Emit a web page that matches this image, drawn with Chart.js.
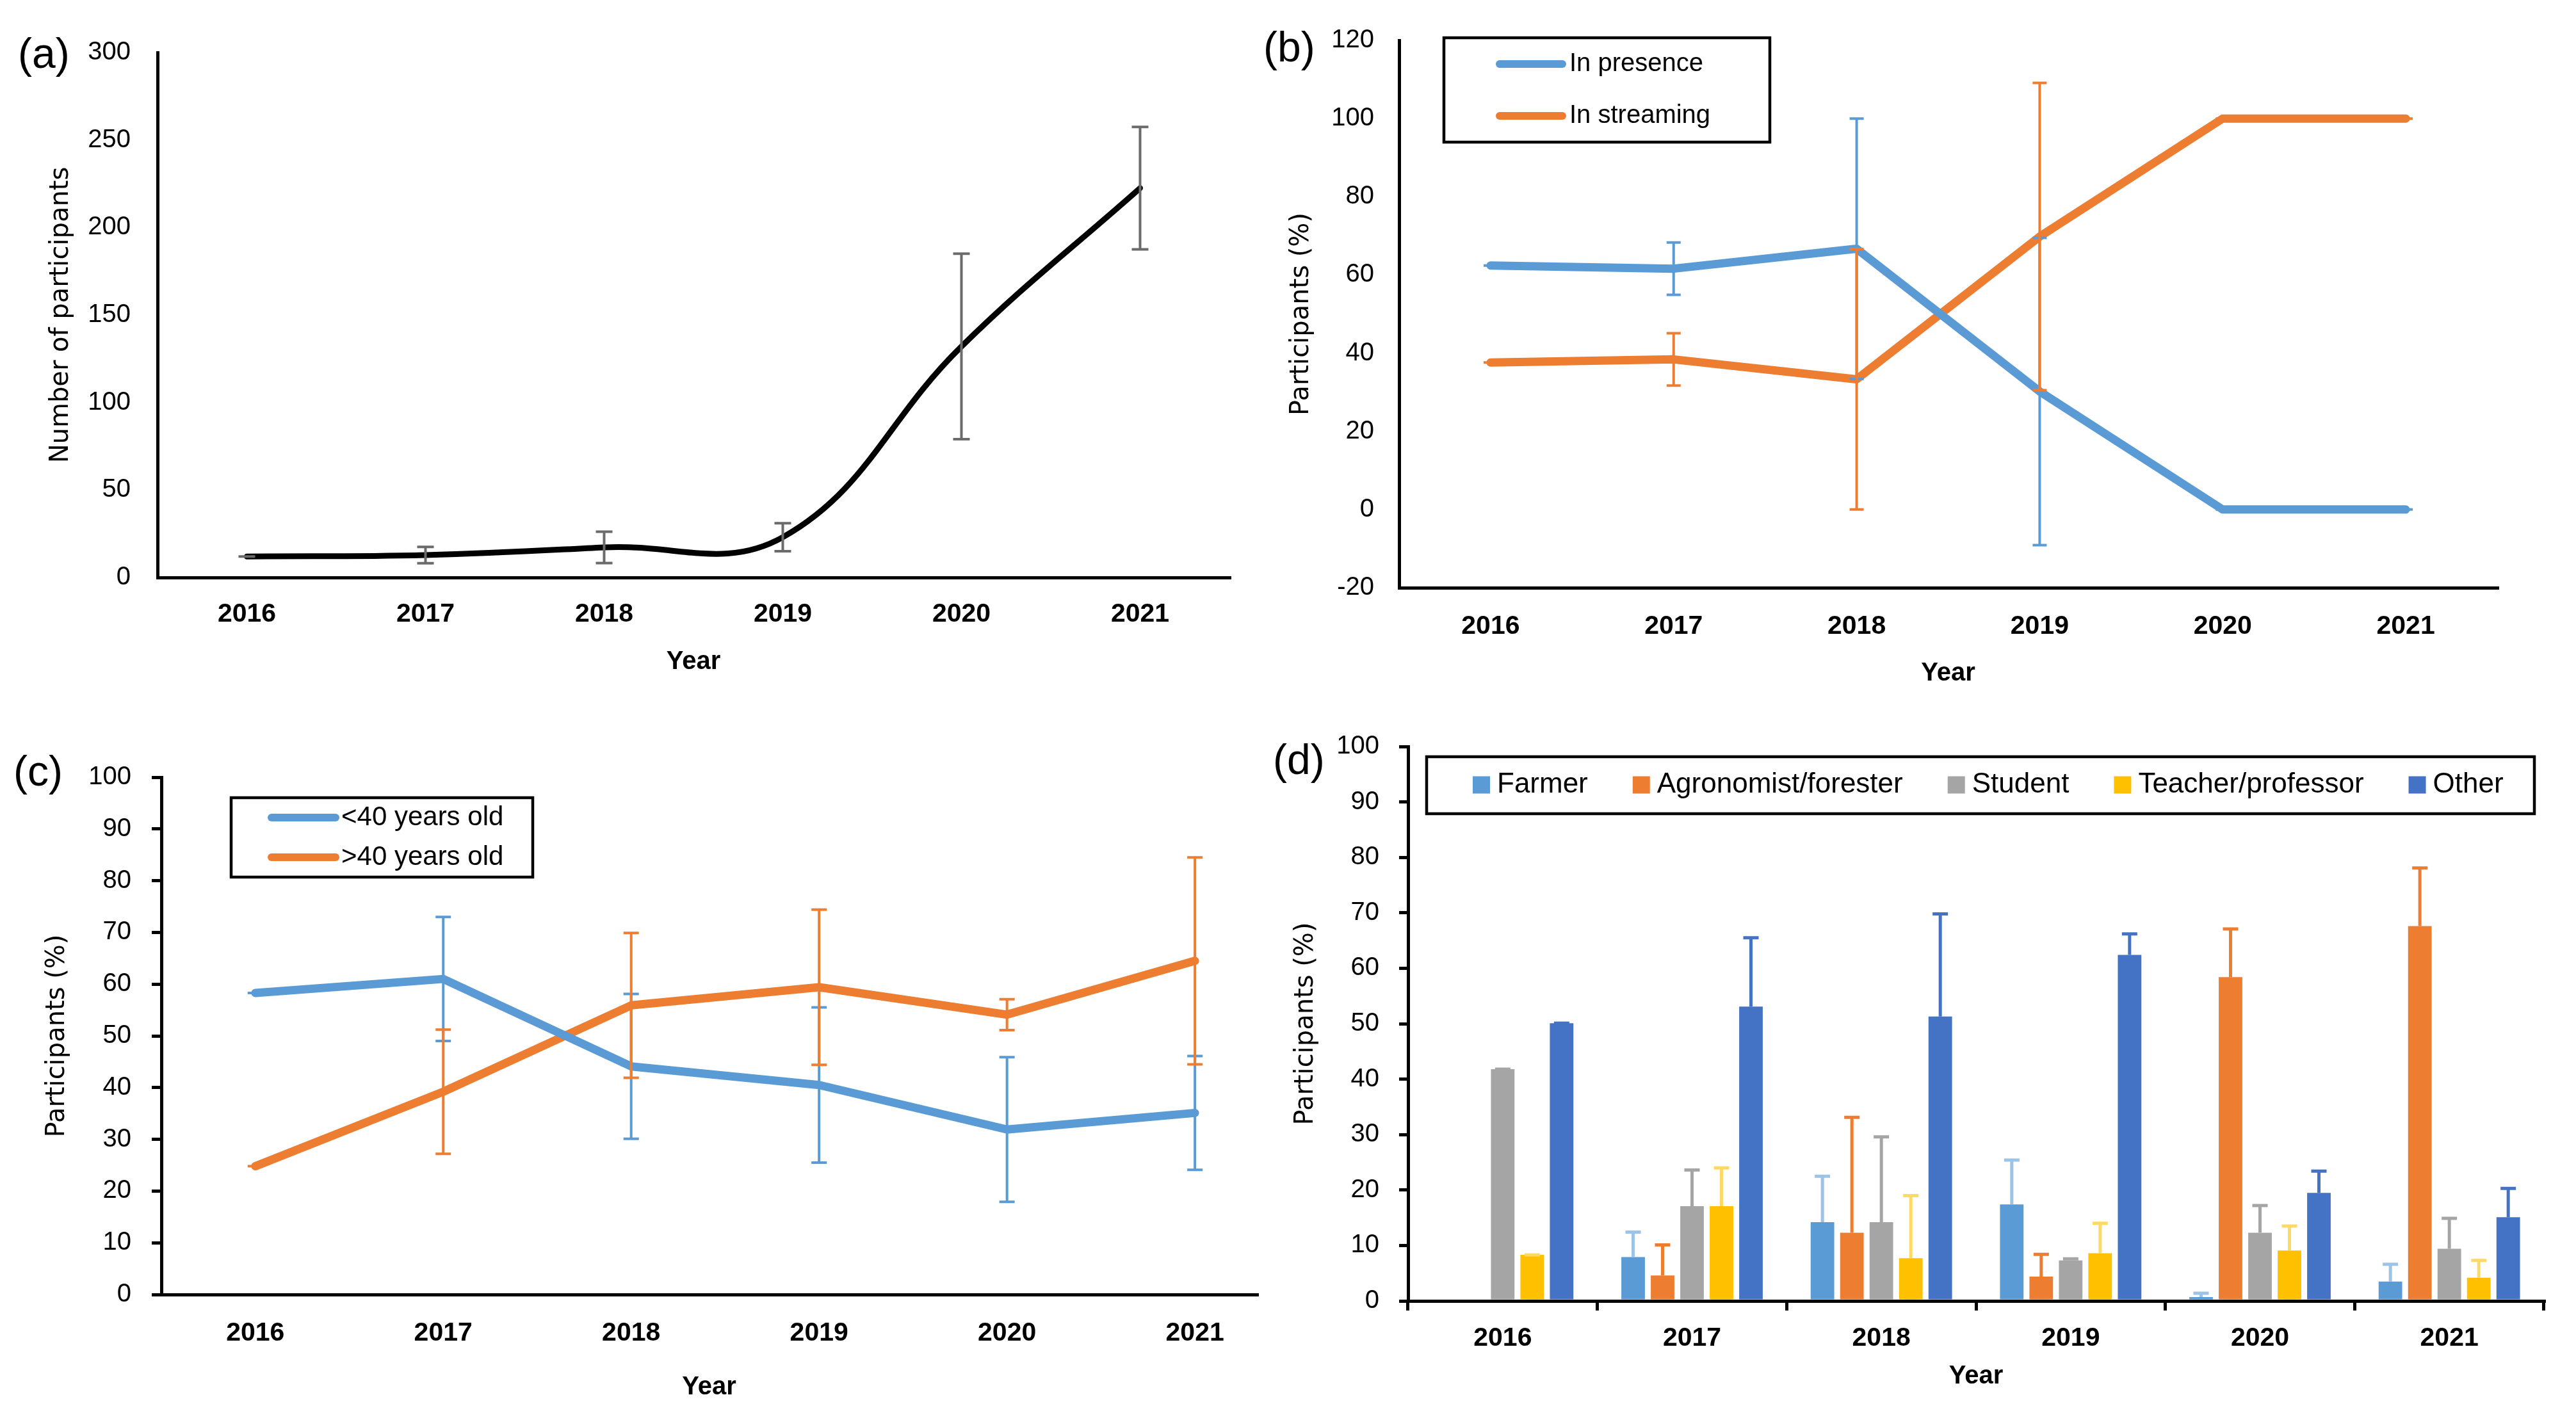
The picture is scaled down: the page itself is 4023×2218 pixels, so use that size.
<!DOCTYPE html>
<html>
<head>
<meta charset="utf-8">
<script src="https://cdn.jsdelivr.net/npm/chart.js@4.4.1/dist/chart.umd.min.js"></script>
<style>
html,body{margin:0;padding:0;background:#fff;}
body{width:4023px;height:2218px;position:relative;overflow:hidden;}
canvas{position:absolute;}
.lbl{position:absolute;font-family:'Liberation Sans',Arial,sans-serif;font-size:66px;line-height:66px;color:#000;white-space:nowrap;}
</style>
</head>
<body>
<div class="lbl" style="left:28px;top:50px">(a)</div>
<div class="lbl" style="left:1973px;top:40px">(b)</div>
<div class="lbl" style="left:21px;top:1171px">(c)</div>
<div class="lbl" style="left:1988px;top:1153px">(d)</div>
<canvas id="ca" width="2000" height="1100" style="left:0px;top:0px;width:2000px;height:1100px"></canvas>
<canvas id="cb" width="2063" height="1100" style="left:1960px;top:0px;width:2063px;height:1100px"></canvas>
<canvas id="cc" width="2000" height="1108" style="left:0px;top:1110px;width:2000px;height:1108px"></canvas>
<canvas id="cd" width="2063" height="1108" style="left:1960px;top:1110px;width:2063px;height:1108px"></canvas>
<script>
// ---------- data ----------
const years = ['2016', '2017', '2018', '2019', '2020', '2021'];

// (a) number of participants
const participants    = [12, 12.8, 17.2, 23, 132, 222.5];
const participantsErr = [0, 4.7, 9, 8, 53, 35];

// (b) participation mode (%)
const inPresence     = [62.4, 61.6, 66.7, 30.2, 0, 0];
const inPresenceErr  = [0, 6.7, 33.3, 39.3, 0, 0];
const inStreaming    = [37.6, 38.4, 33.3, 69.8, 100, 100];
const inStreamingErr = [0, 6.7, 33.3, 39.3, 0, 0];

// (c) age classes (%)
const under40    = [58.3, 61.0, 44.1, 40.5, 31.9, 35.1];
const under40Err = [0, 12, 14, 15, 14, 11];
const over40     = [24.8, 39.2, 55.9, 59.4, 54.1, 64.5];
const over40Err  = [0, 12, 14, 15, 3, 20];

// (d) occupation (%)
const farmer        = [0, 7.9, 14.2, 17.4, 0.7, 3.5];
const farmerErr     = [null, 4.5, 8.3, 8.0, 0.7, 3.1];
const agronomist    = [0, 4.6, 12.3, 4.4, 58.4, 67.6];
const agronomistErr = [null, 5.5, 20.8, 4.0, 8.7, 10.5];
const student       = [41.8, 17.1, 14.2, 7.3, 12.3, 9.4];
const studentErr    = [0, 6.5, 15.4, 0.3, 4.9, 5.5];
const teacher       = [8.3, 17.1, 7.7, 8.6, 9.1, 4.2];
const teacherErr    = [0, 6.9, 11.3, 5.4, 4.4, 3.1];
const other         = [50.1, 53.1, 51.3, 62.4, 19.5, 15.1];
const otherErr      = [0, 12.4, 18.5, 3.8, 3.9, 5.2];

// ---------- styling ----------
const FONT = "'Liberation Sans', Arial, sans-serif";
const TITLE_FONT = "'DejaVu Sans', Verdana, sans-serif";
const BLUE = '#5B9BD5', ORANGE = '#ED7D31';

Chart.defaults.font.family = FONT;
Chart.defaults.color = '#000';

const errorBars = {
  id: 'errorBars',
  afterDatasetsDraw(chart) {
    const ctx = chart.ctx;
    const ys = chart.scales.y;
    chart.data.datasets.forEach((ds, di) => {
      if (!ds.err) return;
      const meta = chart.getDatasetMeta(di);
      ctx.save();
      ctx.strokeStyle = ds.errColor;
      ctx.lineWidth = ds.errWidth;
      ctx.lineCap = 'butt';
      meta.data.forEach((el, i) => {
        const e = ds.err[i];
        if (e === null || e === undefined) return;
        const raw = ds.data[i];
        const v = (typeof raw === 'object') ? raw.y : raw;
        const x = el.x;
        const top = ys.getPixelForValue(v + e);
        const bot = ds.errBoth ? ys.getPixelForValue(v - e) : ys.getPixelForValue(v);
        const hw = ds.errCap / 2;
        ctx.beginPath();
        ctx.moveTo(x, top); ctx.lineTo(x, bot);
        ctx.moveTo(x - hw, top); ctx.lineTo(x + hw, top);
        if (ds.errBoth) { ctx.moveTo(x - hw, bot); ctx.lineTo(x + hw, bot); }
        ctx.stroke();
      });
      ctx.restore();
    });
  }
};

const boxLegend = {
  id: 'boxLegend',
  afterDraw(chart, args, o) {
    if (!o || !o.box) return;
    const ctx = chart.ctx;
    ctx.save();
    ctx.lineWidth = o.borderWidth;
    ctx.strokeStyle = '#000';
    ctx.strokeRect(o.box[0], o.box[1], o.box[2], o.box[3]);
    ctx.font = o.fontSize + 'px ' + FONT;
    ctx.textBaseline = 'middle';
    ctx.textAlign = 'left';
    if (o.kind === 'line') {
      chart.data.datasets.forEach((ds, i) => {
        const y = o.rows[i];
        ctx.strokeStyle = ds.borderColor;
        ctx.lineWidth = o.sampleWidth;
        ctx.lineCap = 'round';
        ctx.beginPath(); ctx.moveTo(o.sx0, y); ctx.lineTo(o.sx1, y); ctx.stroke();
        ctx.fillStyle = '#000';
        ctx.fillText(ds.label, o.textX, y);
      });
    } else {
      let x = o.startX;
      chart.data.datasets.forEach((ds) => {
        ctx.fillStyle = ds.backgroundColor;
        ctx.fillRect(x, o.cy - o.size / 2, o.size, o.size);
        ctx.fillStyle = '#000';
        ctx.fillText(ds.label, x + o.size + o.textGap, o.cy);
        x += o.size + o.textGap + ctx.measureText(ds.label).width + o.itemGap;
      });
    }
    ctx.restore();
  }
};
Chart.register(errorBars, boxLegend);

function yAxis(min, max, step, width, tickLen, pad, title) {
  return {
    min: min, max: max,
    ticks: { stepSize: step, padding: pad, color: '#000', font: { family: FONT, size: 40 } },
    grid: { drawOnChartArea: false, drawTicks: tickLen > 0, tickLength: tickLen, color: '#000', lineWidth: 5 },
    border: { display: true, color: '#000', width: 5 },
    title: { display: true, text: title, color: '#000', padding: 0, font: { family: TITLE_FONT, size: 40 } },
    afterFit(s) { s.width = width; }
  };
}
function xAxisCat(height, tickLen, pad) {
  return {
    type: 'category', offset: true,
    ticks: { padding: pad, color: '#000', maxRotation: 0, autoSkip: false, font: { family: FONT, size: 41, weight: 'bold' } },
    grid: { offset: true, drawOnChartArea: false, drawTicks: tickLen > 0, tickLength: tickLen, color: '#000', lineWidth: 5 },
    border: { display: true, color: '#000', width: 5 },
    title: { display: true, text: 'Year', color: '#000', padding: 0, font: { family: FONT, size: 40, weight: 'bold' } },
    afterFit(s) { s.height = height; }
  };
}
const base = {
  responsive: false, animation: false, devicePixelRatio: 1,
  plugins: { legend: { display: false }, tooltip: { enabled: false } },
  elements: { point: { radius: 0 } }
};

// (a)
new Chart(document.getElementById('ca'), {
  type: 'line',
  data: {
    labels: years,
    datasets: [{
      label: 'Number of participants', data: participants,
      borderColor: '#000', borderWidth: 9, tension: 0.4, borderCapStyle: 'round', borderJoinStyle: 'round',
      err: participantsErr, errColor: '#6b6b6b', errWidth: 4, errCap: 26, errBoth: true
    }]
  },
  options: Object.assign({}, base, {
    layout: { padding: { left: 72, top: 82, right: 80, bottom: 42 } },
    scales: {
      x: xAxisCat(156, 0, 33),
      y: yAxis(0, 300, 50, 174, 0, 42, 'Number of participants')
    }
  })
});

// (b)
new Chart(document.getElementById('cb'), {
  type: 'line',
  data: {
    labels: years,
    datasets: [
      { label: 'In presence', data: inPresence, borderColor: BLUE, borderWidth: 13, tension: 0,
        borderCapStyle: 'round', borderJoinStyle: 'round',
        err: inPresenceErr, errColor: BLUE, errWidth: 4, errCap: 22, errBoth: true },
      { label: 'In streaming', data: inStreaming, borderColor: ORANGE, borderWidth: 13, tension: 0,
        borderCapStyle: 'round', borderJoinStyle: 'round',
        err: inStreamingErr, errColor: ORANGE, errWidth: 4, errCap: 22, errBoth: true }
    ]
  },
  options: Object.assign({}, base, {
    layout: { padding: { left: 49, top: 61, right: 123, bottom: 24 } },
    scales: {
      x: xAxisCat(158, 0, 36),
      y: yAxis(-20, 120, 20, 176, 0, 39, 'Participants (%)')
    },
    plugins: {
      legend: { display: false }, tooltip: { enabled: false },
      boxLegend: { kind: 'line', box: [2255 - 1960, 59, 509, 163], borderWidth: 4.5, fontSize: 40,
        sx0: 2342 - 1960, sx1: 2440 - 1960, rows: [100, 181], textX: 2451 - 1960, sampleWidth: 12 }
    }
  })
});

// (c)
new Chart(document.getElementById('cc'), {
  type: 'line',
  data: {
    datasets: [
      { label: '<40 years old', data: under40.map((v, i) => ({ x: i, y: v })), borderColor: BLUE, borderWidth: 13,
        tension: 0, borderCapStyle: 'round', borderJoinStyle: 'round',
        err: under40Err, errColor: BLUE, errWidth: 4, errCap: 24, errBoth: true },
      { label: '>40 years old', data: over40.map((v, i) => ({ x: i, y: v })), borderColor: ORANGE, borderWidth: 13,
        tension: 0, borderCapStyle: 'round', borderJoinStyle: 'round',
        err: over40Err, errColor: ORANGE, errWidth: 4, errCap: 24, errBoth: true }
    ]
  },
  options: Object.assign({}, base, {
    layout: { padding: { left: 66, top: 104, right: 37, bottom: 27 } },
    scales: {
      x: {
        type: 'linear', min: -0.5, max: 5.33,
        afterBuildTicks(s) { s.ticks = years.map((_, i) => ({ value: i })); },
        ticks: { padding: 36, color: '#000', maxRotation: 0, autoSkip: false,
          font: { family: FONT, size: 41, weight: 'bold' },
          callback: (v) => years[v] },
        grid: { drawOnChartArea: false, drawTicks: false, color: '#000', lineWidth: 5 },
        border: { display: true, color: '#000', width: 5 },
        title: { display: true, text: 'Year', color: '#000', padding: 0, font: { family: FONT, size: 40, weight: 'bold' } },
        afterFit(s) { s.height = 169; }
      },
      y: yAxis(0, 100, 10, 186, 15, 32, 'Participants (%)')
    },
    plugins: {
      legend: { display: false }, tooltip: { enabled: false },
      boxLegend: { kind: 'line', box: [361, 1246 - 1110, 471, 124], borderWidth: 4.5, fontSize: 42,
        sx0: 424, sx1: 524, rows: [1277 - 1110, 1339 - 1110], textX: 533, sampleWidth: 12 }
    }
  })
});

// (d)
function barSet(label, data, err, color, errColor) {
  return { label: label, data: data, backgroundColor: color, borderWidth: 0,
    categoryPercentage: 0.778, barPercentage: 0.80,
    err: err, errColor: errColor, errWidth: 5, errCap: 24, errBoth: false };
}
new Chart(document.getElementById('cd'), {
  type: 'bar',
  data: {
    labels: years,
    datasets: [
      barSet('Farmer', farmer, farmerErr, '#5B9BD5', '#9DC3E6'),
      barSet('Agronomist/forester', agronomist, agronomistErr, '#ED7D31', '#ED7D31'),
      barSet('Student', student, studentErr, '#A5A5A5', '#A5A5A5'),
      barSet('Teacher/professor', teacher, teacherErr, '#FFC000', '#FFD966'),
      barSet('Other', other, otherErr, '#4472C4', '#4472C4')
    ]
  },
  options: Object.assign({}, base, {
    layout: { padding: { left: 56, top: 56, right: 50, bottom: 44 } },
    scales: {
      x: xAxisCat(142, 15, 19),
      y: yAxis(0, 100, 10, 183, 14, 31, 'Participants (%)')
    },
    plugins: {
      legend: { display: false }, tooltip: { enabled: false },
      boxLegend: { kind: 'square', box: [2228 - 1960, 1182 - 1110, 1730, 89], borderWidth: 4.5, fontSize: 44,
        startX: 2300 - 1960, cy: 1226 - 1110, size: 27, textGap: 11, itemGap: 70 }
    }
  })
});
</script>
</body>
</html>
